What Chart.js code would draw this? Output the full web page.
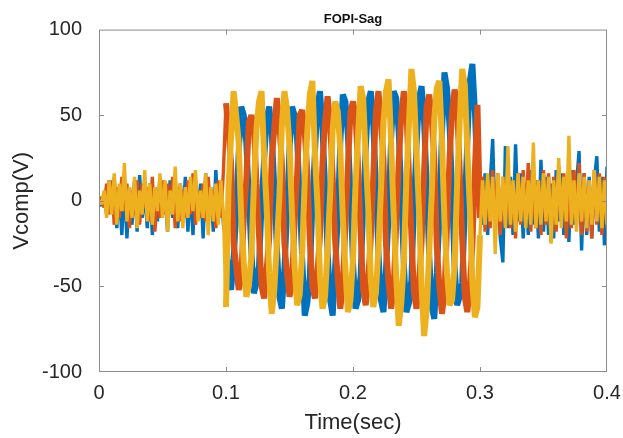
<!DOCTYPE html>
<html>
<head>
<meta charset="utf-8">
<script src="https://cdn.jsdelivr.net/npm/chart.js@4/dist/chart.umd.min.js"></script>
<style>
  html, body { margin: 0; padding: 0; background: #ffffff; }
  #wrap { width: 623px; height: 438px; }
</style>
</head>
<body>
<div id="wrap"><canvas id="sagChart" width="623" height="438"></canvas></div>
<script>
// sampled every 2 ms from 0 to 0.4 s
const sampleStep = 0.002;

const blueVolts = [
  0, -3, 4, -8, 12, -6, 14, -16, 6, -20,
  10, -22, 8, -14, 12, -18, 15, -10, 6, -16,
  10, -20, 8, -12, 14, -8, 4, -18, 12, -10,
  6, -16, 10, -8, 14, -18, 8, -20, 12, -6,
  10, -22, 16, -10, 8, -18, 18, -8, 10, -14,
  -22, -46, -52, -34, -8, 28, 55, 50, 34, 2,
  -30, -54, -48, -38, -2, 24, 48, 55, 40, 8,
  -26, -56, -63, -40, -8, 30, 55, 50, 36, 2,
  -34, -67, -60, -44, -2, 28, 56, 64, 42, 8,
  -30, -58, -67, -38, -10, 34, 62, 58, 38, 4,
  -36, -63, -58, -44, -4, 30, 58, 64, 44, 10,
  -30, -58, -65, -40, -8, 36, 64, 60, 40, 4,
  -36, -65, -60, -46, -2, 32, 60, 67, 46, 10,
  -32, -62, -69, -42, -10, 38, 75, 66, 44, 6,
  -38, -61, -56, -48, -4, 34, 70, 80, 52, 12,
  8, -14, 16, -20, 10, 36, -18, 12, -22, -36,
  32, -16, 14, -20, 33, -12, 16, -22, 10, -20,
  18, -14, 12, -22, 24, -18, 14, -20, 10, -22,
  18, -12, 16, -20, 12, -24, 18, -14, 10, 29,
  -29, 16, -20, 14, -22, 12, 26, -18, 14, -26,
  20
];

const orangeVolts = [
  0, 2, -4, 10, -8, 12, -14, 8, -10, 14,
  -6, 10, -16, 6, -8, 12, -14, 10, -4, 8,
  -12, 14, -18, 6, -10, 12, -8, 10, -6, 14,
  -16, 8, -12, 6, -10, 12, -8, 16, -14, 6,
  -10, 10, -12, 14, -8, 6, -16, 12, -10, 18,
  57, 40, 22, -24, -38, -52, -45, -10, 12, 46,
  50, 44, 10, -20, -50, -57, -40, -22, 24, 42,
  60, 45, 22, -25, -42, -56, -48, -12, 15, 50,
  53, 40, 18, -23, -50, -57, -42, -20, 22, 46,
  61, 46, 14, -24, -46, -63, -50, -15, 20, 52,
  58, 50, 20, -18, -52, -61, -46, -22, 14, 52,
  64, 47, 24, -26, -48, -63, -52, -14, 22, 50,
  64, 54, 16, -20, -54, -63, -48, -24, 17, 55,
  62, 48, 25, -27, -50, -66, -55, -16, 24, 52,
  65, 55, 18, -22, -56, -65, -50, -26, 18, 56,
  -10, 14, -18, 12, -16, 18, -12, 16, -20, 14,
  -14, 20, -16, 12, -22, 16, -14, 18, -12, 22,
  -18, 14, -16, 12, -20, 18, -14, 16, -24, 14,
  -18, 20, -12, 16, -22, 14, -16, 18, -14, 22,
  -20, 16, -18, 12, -22, 18, -14, 16, -20, 14,
  -16
];

const yellowVolts = [
  0, -2, 6, -10, 12, -8, 16, -14, 10, -6,
  22, -12, 8, -10, 14, -16, 6, -8, 18, -12,
  10, -14, 8, -6, 16, -10, 12, -18, 6, -8,
  20, -12, 10, -16, 8, -10, 14, -6, 18, -12,
  6, -10, 16, -20, 8, -12, 10, -14, 12, -8,
  -62, 8, 38, 64, 50, 34, -10, -36, -56, -50,
  -32, 10, 42, 58, 64, 26, -4, -42, -66, -52,
  -26, 2, 44, 64, 54, 32, -8, -38, -61, -55,
  -30, 12, 40, 62, 70, 28, -2, -44, -63, -56,
  -28, 4, 42, 58, 52, 30, -10, -40, -65, -58,
  -34, 10, 38, 67, 60, 26, -4, -46, -62, -54,
  -28, 6, 46, 64, 71, 34, -8, -44, -73, -60,
  -36, 12, 44, 77, 64, 28, -6, -50, -79, -64,
  -30, 4, 48, 66, 70, 36, -12, -42, -61, -58,
  -38, 10, 46, 77, 68, 30, -4, -48, -68, -62,
  -20, 12, -14, 16, -12, 14, -31, 16, -12, 14,
  -16, 32, -14, 12, -18, 16, -12, 14, -16, 12,
  -14, 34, -16, 12, -14, 16, -12, 14, -25, 12,
  -14, 25, -16, 14, -12, 38, -14, 12, -18, 16,
  -12, 14, -16, 12, -14, 18, -12, 14, -16, 12,
  -14
];

const xTicks = [0, 0.1, 0.2, 0.3, 0.4];
const yTicks = [-100, -50, 0, 50, 100];
const sagStart = 0.1;
const sagEnd = 0.3;

const toPoints = (values) =>
  values.map((v, i) => ({ x: Number((i * sampleStep).toFixed(3)), y: v }));

const textColor = '#262626';
const frameColor = '#8c8c8c';
const fontFamily = 'Liberation Sans, Arial, sans-serif';

// MATLAB style box with inward ticks on all four sides
const boxFrame = {
  id: 'boxFrame',
  afterDraw(chart) {
    const { ctx, chartArea: a, scales } = chart;
    ctx.save();
    ctx.strokeStyle = frameColor;
    ctx.lineWidth = 1;
    ctx.strokeRect(a.left + 0.5, a.top + 0.5, a.right - a.left - 1, a.bottom - a.top - 1);
    ctx.beginPath();
    xTicks.slice(1, -1).forEach((t) => {
      const px = Math.round(scales.x.getPixelForValue(t)) + 0.5;
      ctx.moveTo(px, a.bottom);
      ctx.lineTo(px, a.bottom - 5);
      ctx.moveTo(px, a.top);
      ctx.lineTo(px, a.top + 5);
    });
    yTicks.slice(1, -1).forEach((t) => {
      const py = Math.round(scales.y.getPixelForValue(t)) + 0.5;
      ctx.moveTo(a.left, py);
      ctx.lineTo(a.left + 5, py);
      ctx.moveTo(a.right, py);
      ctx.lineTo(a.right - 5, py);
    });
    ctx.stroke();
    ctx.restore();
  }
};

// the sag interval has a much thicker noise band than the rest
const segmentWidth = (ctx) => {
  const t = ctx.p0.parsed.x;
  return t >= sagStart && t < sagEnd - 0.001 ? 6 : 3.4;
};

const lineSet = (label, values, color, order) => ({
  label,
  data: toPoints(values),
  borderColor: color,
  backgroundColor: color,
  borderWidth: 3.4,
  borderJoinStyle: 'bevel',
  pointRadius: 0,
  tension: 0,
  segment: { borderWidth: segmentWidth },
  order
});

new Chart(document.getElementById('sagChart'), {
  type: 'line',
  data: {
    datasets: [
      lineSet('Va', blueVolts, '#0072BD', 3),
      lineSet('Vb', orangeVolts, '#D95319', 2),
      lineSet('Vc', yellowVolts, '#EDB120', 1)
    ]
  },
  options: {
    responsive: false,
    animation: false,
    layout: { padding: { top: 0, right: 16, bottom: 0, left: 0 } },
    plugins: {
      legend: { display: false },
      tooltip: { enabled: false },
      title: {
        display: true,
        text: 'FOPI-Sag',
        fullSize: false,
        color: '#111',
        font: { family: fontFamily, size: 13, weight: 'bold' },
        padding: { top: 12, bottom: 2 }
      }
    },
    scales: {
      x: {
        type: 'linear',
        min: 0,
        max: 0.4,
        afterFit: (scale) => {
          scale.height = 66;
          scale.paddingLeft = 0;
          scale.paddingRight = 0;
        },
        afterBuildTicks: (scale) => { scale.ticks = xTicks.map((v) => ({ value: v })); },
        grid: { display: false, drawTicks: false },
        border: { display: false },
        ticks: {
          color: textColor,
          padding: 9,
          maxRotation: 0,
          font: { family: fontFamily, size: 20 }
        },
        title: {
          display: true,
          text: 'Time(sec)',
          color: textColor,
          font: { family: fontFamily, size: 22 },
          padding: { top: 0, bottom: 2 }
        }
      },
      y: {
        min: -100,
        max: 100,
        afterFit: (scale) => {
          scale.width = 99;
          scale.paddingTop = 0;
          scale.paddingBottom = 0;
        },
        afterBuildTicks: (scale) => { scale.ticks = yTicks.map((v) => ({ value: v })); },
        grid: { display: false, drawTicks: false },
        border: { display: false },
        ticks: {
          color: textColor,
          padding: 17,
          font: { family: fontFamily, size: 20 }
        },
        title: {
          display: true,
          text: 'Vcomp(V)',
          color: textColor,
          font: { family: fontFamily, size: 22 },
          padding: { top: 9, bottom: 0 }
        }
      }
    }
  },
  plugins: [boxFrame]
});
</script>
</body>
</html>
